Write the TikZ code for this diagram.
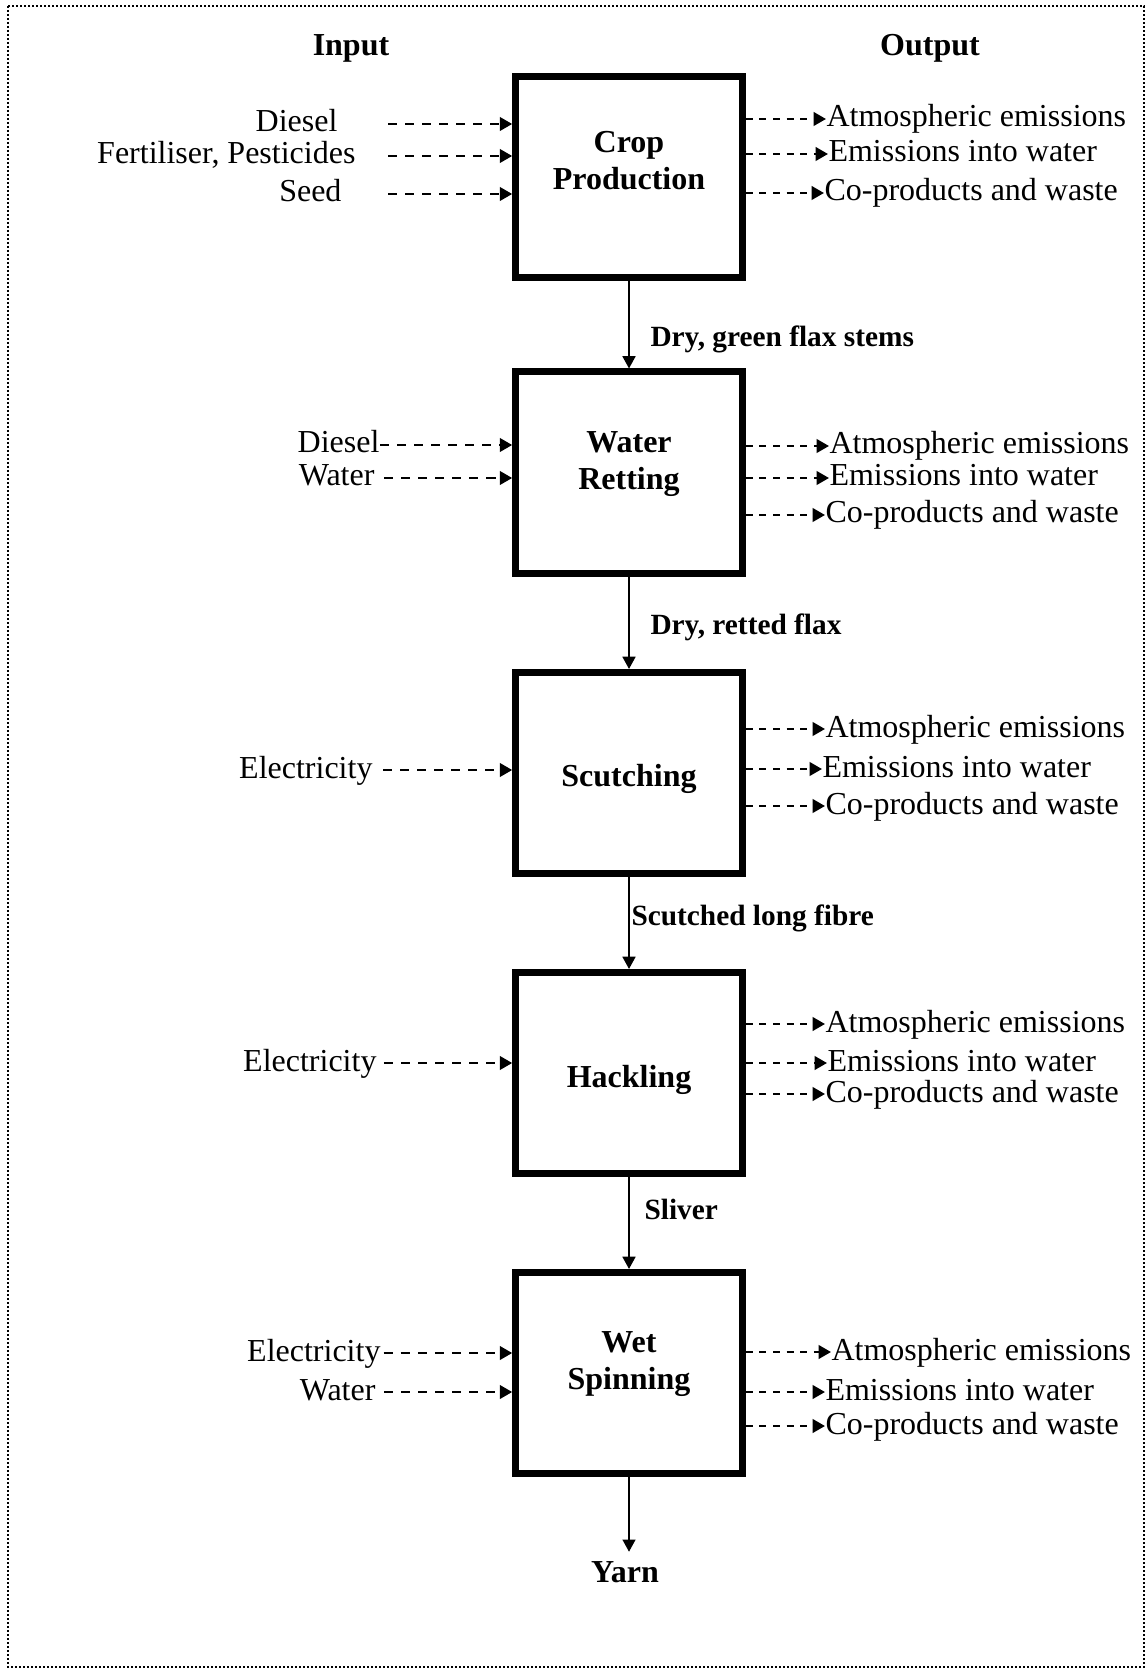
\documentclass[tikz,border=0pt]{standalone}
\usepackage{fontspec}
\setmainfont{Liberation Serif}
\usetikzlibrary{arrows.meta}

\begin{document}
\begin{tikzpicture}[x=0.375pt, y=-0.375pt,
    procbox/.style={draw, line width=2.6pt, minimum width=85pt, minimum height=75.4pt, inner sep=0pt},
    boxtext/.style={font=\fontsize{12}{13.8}\selectfont\bfseries, align=center, inner sep=0pt},
    head/.style={font=\fontsize{12}{13.8}\selectfont\bfseries, inner sep=0pt},
    intext/.style={font=\fontsize{12}{13.8}\selectfont, anchor=east, inner sep=0pt, text height=8.4pt, text depth=2.4pt},
    outtext/.style={font=\fontsize{12}{13.8}\selectfont, anchor=west, inner sep=0pt, text height=8.4pt, text depth=2.4pt},
    flowlabel/.style={font=\fontsize{11}{13}\selectfont\bfseries, anchor=west, inner sep=0pt},
    inflow/.style={-{Triangle[length=4.6pt, width=5pt]}, line width=0.95pt, dash pattern=on 3.4pt off 3pt},
    outflow/.style={-{Triangle[length=4.6pt, width=5pt]}, line width=0.95pt, dash pattern=on 2.6pt off 2.5pt},
    flow/.style={-{Triangle[length=4.6pt, width=4.8pt]}, line width=0.8pt},
    border/.style={line width=0.75pt, dash pattern=on 0.75pt off 0.75pt}]
    \useasboundingbox (0,0) rectangle (1146,1671);
    \draw [border] (8,6) rectangle (1144,1667);
    \node [head] (input) at (351,48) {Input};
    \node [head] (output) at (930,48) {Output};
    % process boxes
    \node [procbox] (crop) at (629,177) {};
    \node [boxtext] at (629,161) {Crop\\Production};
    \node [procbox] (ret) at (629,472.5) {};
    \node [boxtext] at (629,464) {Water\\Retting};
    \node [procbox] (scu) at (629,773) {};
    \node [boxtext] at (629,779) {Scutching};
    \node [procbox] (hac) at (629,1073) {};
    \node [boxtext] at (629,1080) {Hackling};
    \node [procbox] (spin) at (629,1373) {};
    \node [boxtext] at (629,1364) {Wet\\Spinning};
    \node [head, inner sep=3.4pt] (yarn) at (625,1572) {Yarn};
    % main flow
    \draw [flow] (crop) -- (ret);
    \draw [flow] (ret) -- (scu);
    \draw [flow] (scu) -- (hac);
    \draw [flow] (hac) -- (spin);
    \draw [flow] (spin.south) -- (spin.south |- yarn.north);
    \node [flowlabel] (green) at (650,339) {Dry, green flax stems};
    \node [flowlabel] (retted) at (650,627) {Dry, retted flax};
    \node [flowlabel] (fibre) at (631,918) {Scutched long fibre};
    \node [flowlabel] (sliver) at (644,1209) {Sliver};
    % inputs
    \node [intext] (dsl1) at (338,124) {Diesel};
    \node [intext] (fert1) at (356,156) {Fertiliser, Pesticides};
    \node [intext] (seed1) at (342,194) {Seed};
    \draw [inflow, shorten <=18.75pt] (dsl1) -- (dsl1 -| crop.west);
    \draw [inflow, shorten <=12pt] (fert1) -- (fert1 -| crop.west);
    \draw [inflow, shorten <=17.25pt] (seed1) -- (seed1 -| crop.west);
    \node [intext] (dsl2) at (380,445) {Diesel};
    \node [intext] (wat2) at (375,478) {Water};
    \draw [inflow] (dsl2) -- (dsl2 -| ret.west);
    \draw [inflow, shorten <=3.4pt] (wat2) -- (wat2 -| ret.west);
    \node [intext] (ele3) at (373,770) {Electricity};
    \draw [inflow, shorten <=3.75pt] (ele3) -- (ele3 -| scu.west);
    \node [intext] (ele4) at (377,1063) {Electricity};
    \draw [inflow, shorten <=2.6pt] (ele4) -- (ele4 -| hac.west);
    \node [intext] (ele5) at (381,1353) {Electricity};
    \node [intext] (wat5) at (376,1392) {Water};
    \draw [inflow, shorten <=1pt] (ele5) -- (ele5 -| spin.west);
    \draw [inflow, shorten <=3pt] (wat5) -- (wat5 -| spin.west);
    % outputs
    \node [outtext] (atm1) at (826,119) {Atmospheric emissions};
    \node [outtext] (emi1) at (828,154) {Emissions into water};
    \node [outtext] (cop1) at (824,193) {Co-products and waste};
    \draw [outflow] (atm1 -| crop.east) -- (atm1);
    \draw [outflow] (emi1 -| crop.east) -- (emi1);
    \draw [outflow] (cop1 -| crop.east) -- (cop1);
    \node [outtext] (atm2) at (829,446) {Atmospheric emissions};
    \node [outtext] (emi2) at (829,478) {Emissions into water};
    \node [outtext] (cop2) at (825,515) {Co-products and waste};
    \draw [outflow] (atm2 -| ret.east) -- (atm2);
    \draw [outflow] (emi2 -| ret.east) -- (emi2);
    \draw [outflow] (cop2 -| ret.east) -- (cop2);
    \node [outtext] (atm3) at (825,729) {Atmospheric emissions};
    \node [outtext] (emi3) at (822,769) {Emissions into water};
    \node [outtext] (cop3) at (825,806) {Co-products and waste};
    \draw [outflow] (atm3 -| scu.east) -- (atm3);
    \draw [outflow] (emi3 -| scu.east) -- (emi3);
    \draw [outflow] (cop3 -| scu.east) -- (cop3);
    \node [outtext] (atm4) at (825,1024) {Atmospheric emissions};
    \node [outtext] (emi4) at (827,1063) {Emissions into water};
    \node [outtext] (cop4) at (825,1094) {Co-products and waste};
    \draw [outflow] (atm4 -| hac.east) -- (atm4);
    \draw [outflow] (emi4 -| hac.east) -- (emi4);
    \draw [outflow] (cop4 -| hac.east) -- (cop4);
    \node [outtext] (atm5) at (831,1352) {Atmospheric emissions};
    \node [outtext] (emi5) at (825,1392) {Emissions into water};
    \node [outtext] (cop5) at (825,1426) {Co-products and waste};
    \draw [outflow] (atm5 -| spin.east) -- (atm5);
    \draw [outflow] (emi5 -| spin.east) -- (emi5);
    \draw [outflow] (cop5 -| spin.east) -- (cop5);
\end{tikzpicture}
\end{document}
